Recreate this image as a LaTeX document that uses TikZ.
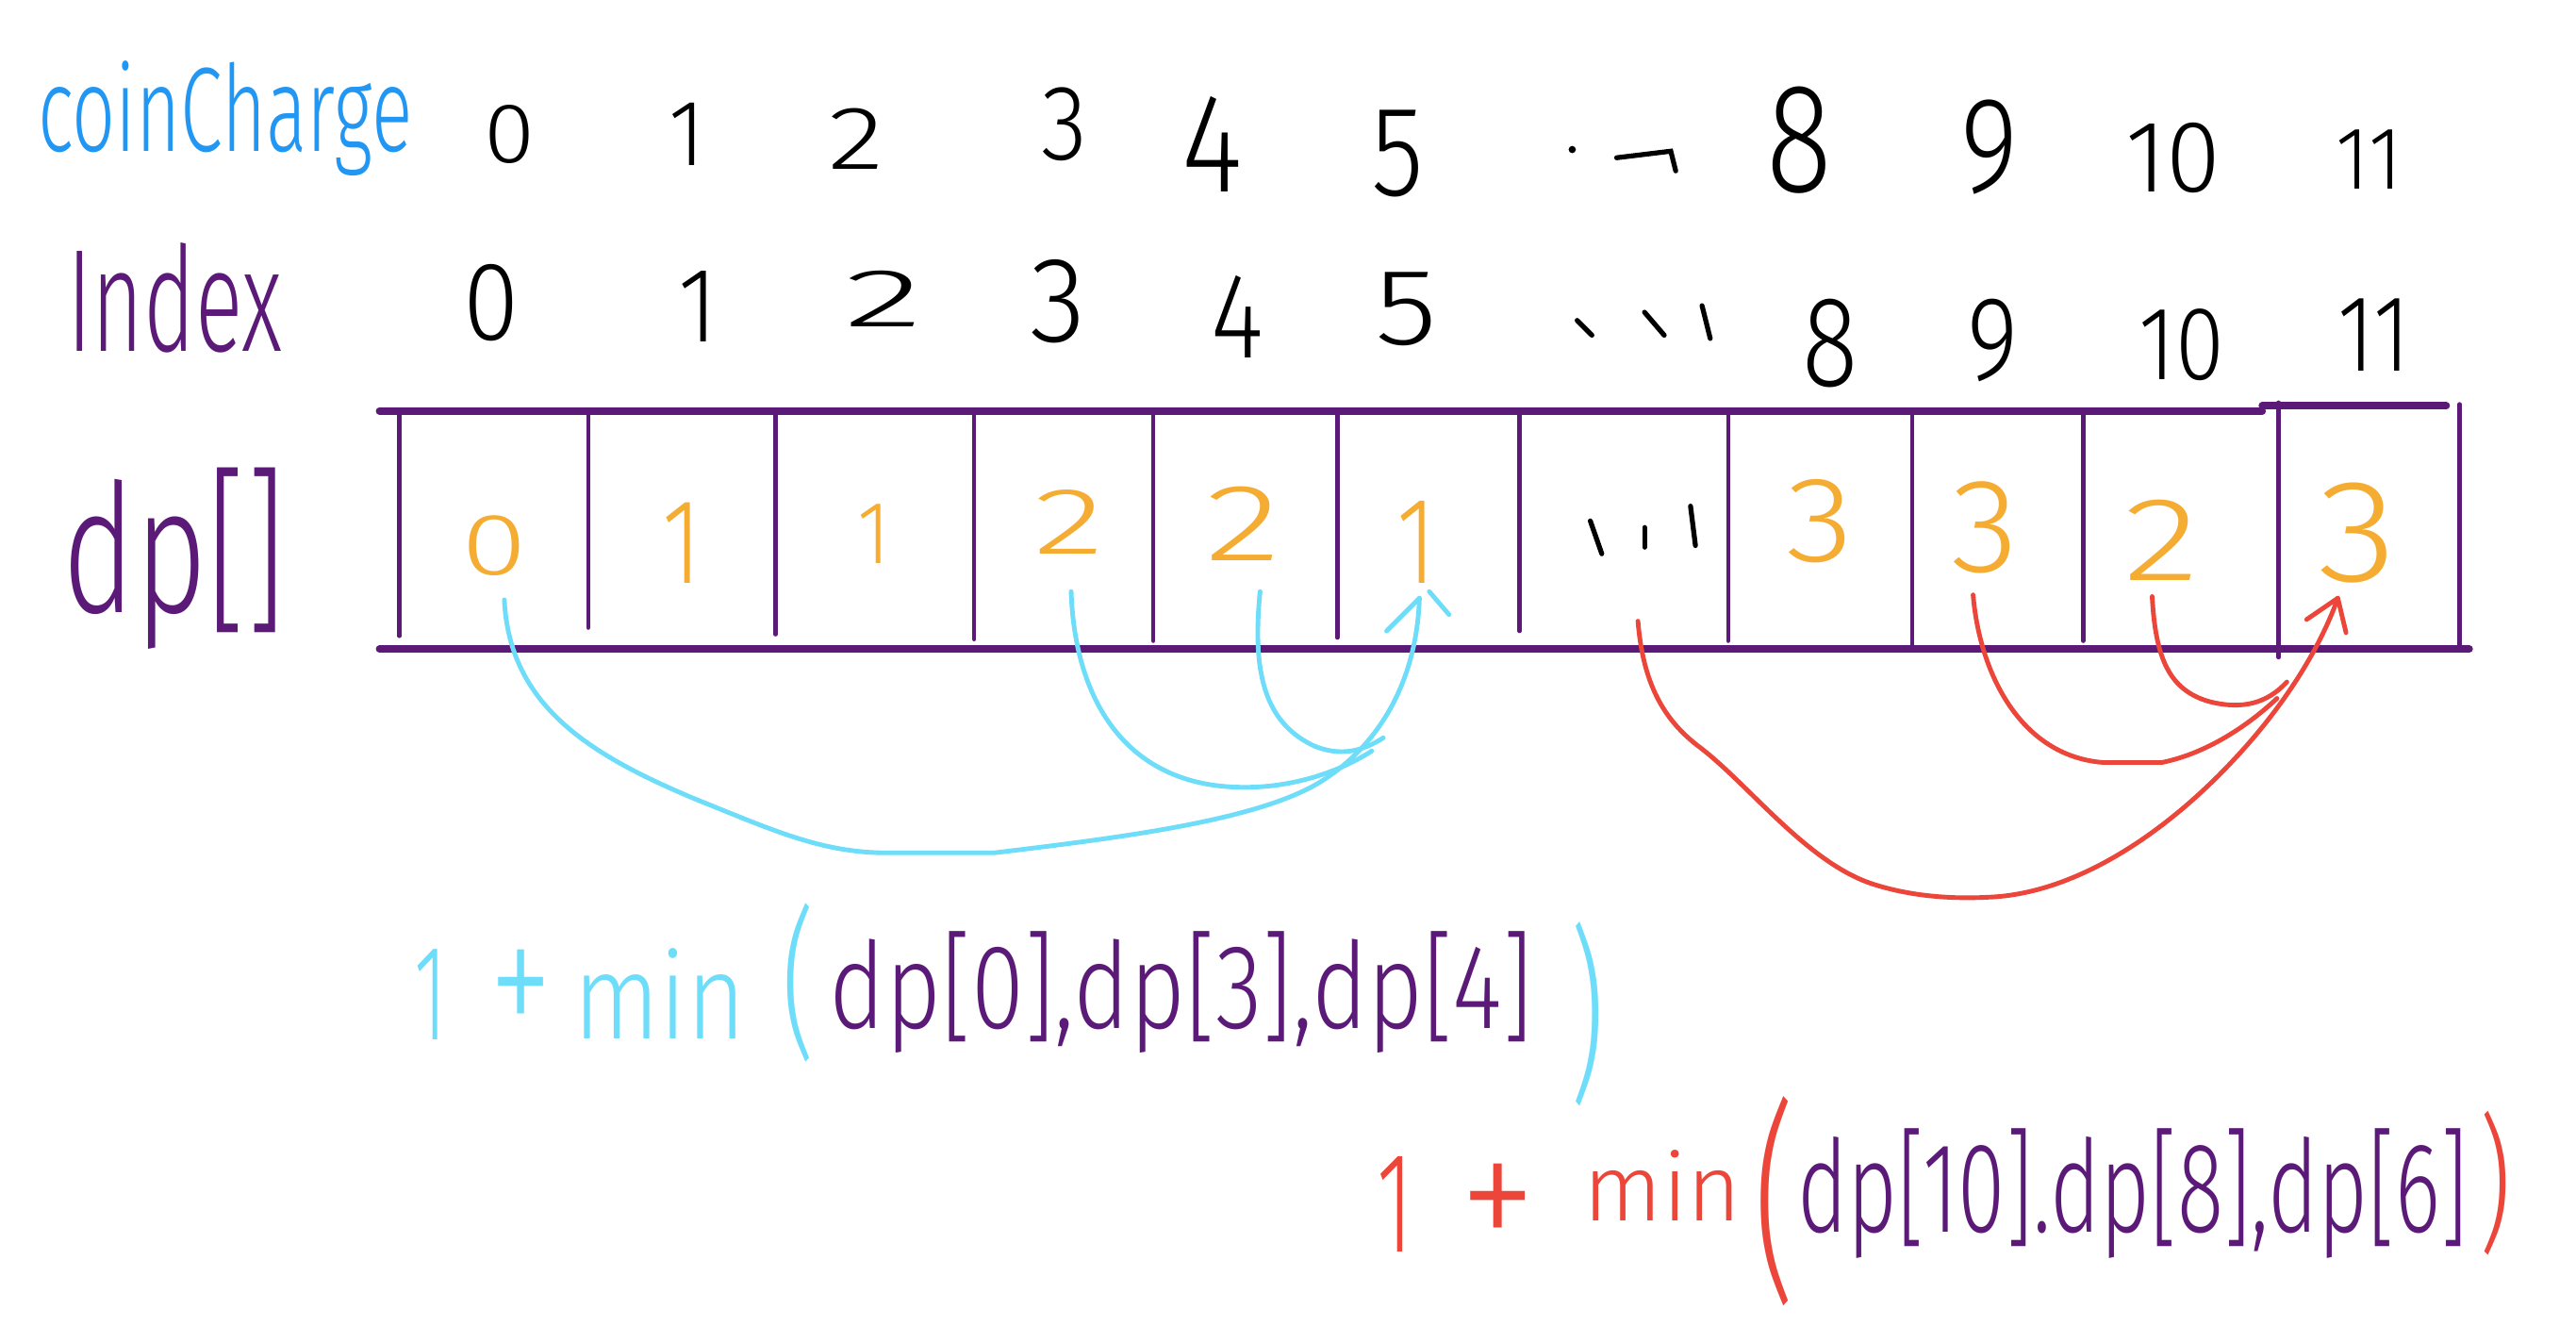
\documentclass[tikz,border=0pt]{standalone}
\usepackage{fontspec}
\usepackage{graphicx}
\newfontfamily\hand{Fira Sans Light}
\definecolor{cblue}{HTML}{2196F3}
\definecolor{cpurple}{HTML}{5B1A78}
\definecolor{corange}{HTML}{F5AC32}
\definecolor{ccyan}{HTML}{6EDDFA}
\definecolor{cred}{HTML}{EC453A}
\newcommand\fit[3]{\resizebox{#1}{#2}{\hand #3}}
\begin{document}
\begin{tikzpicture}[x=1pt,y=-1pt,
  txt/.style={inner sep=0pt, outer sep=0pt, anchor=base},
  txtw/.style={inner sep=0pt, outer sep=0pt, anchor=base west},
  txtc/.style={inner sep=0pt, outer sep=0pt, anchor=center},
  gridh/.style={draw=cpurple, line width=4.5pt, line cap=round},
  gridv/.style={draw=cpurple, line width=2.6pt, line cap=round},
  cyanline/.style={draw=ccyan, line width=2.8pt, line cap=round, line join=round},
  redline/.style={draw=cred, line width=2.8pt, line cap=round, line join=round},
  inkstroke/.style={draw=black, line width=3pt, line cap=round}]
\useasboundingbox[fill=white] (0,0) rectangle (1568,817);

% labels
\node[txtw, text=cblue] (lcoin) at (23,92) {\fit{228pt}{55pt}{coinCharge}};
\node[txtw, text=cpurple] (lindex) at (41,214) {\fit{131pt}{66pt}{Index}};
\node[txtw, text=cpurple] (ldp) at (38,373) {\fit{136pt}{88pt}{dp[]}};

% row 1 (coinCharge amounts)
\foreach \n/\x/\y/\w/\h/\s in {0/310/99/31/35/0, 1/418/101/22/38/1, 2/521/103/34/37/2, 3/648/97/28/44/3,
  4/738/117/37/58/4, 5/851/119/32/52/5, 8/1095/117/40/64/8, 9/1211/117/35/56/9, 10/1323/117/58/42/10, 11/1442/115/40/36/11}
  \node[txt] (ca\n) at (\x,\y) {\fit{\w pt}{\h pt}{\s}};
\fill (957,91) circle (2.2pt);
\coordinate (hk1) at (984,96);
\coordinate (hk2) at (1017,92);
\coordinate (hk3) at (1020,104);
\draw[inkstroke] (hk1) -- (hk2) -- (hk3);

% row 2 (index)
\foreach \n/\x/\y/\w/\h/\s in {0/299/207/34/46/0, 1/425/208/24/43/1, 2/538/199/48/34/2, 3/644/208/34/50/3,
  4/753/218/32/50/4, 5/856/210/38/44/5, 8/1114/235/34/53/8, 9/1213/231/31/49/9, 10/1328/231/52/43/10, 11/1445/226/44/44/11}
  \node[txt] (ix\n) at (\x,\y) {\fit{\w pt}{\h pt}{\s}};
\draw[inkstroke] (960,195) -- (969,204);
\draw[inkstroke] (1001,190) -- (1013,204);
\draw[inkstroke] (1036,186) -- (1041,206);

% grid
\draw[gridh] (231,250) -- (1377,250);
\draw[gridh] (1377,247) -- (1489,247);
\draw[gridh] (231,395) -- (1503,395);
\foreach \x/\t/\b in {243/251/387, 358/251/382, 472/251/386, 593/251/389, 702/251/390, 814/251/388,
  925/251/384, 1052/251/390, 1164/251/394, 1268/251/390, 1387/245/400, 1497/246/394}
  \draw[gridv] (\x,\t) -- (\x,\b);

% dp values
\foreach \n/\x/\y/\w/\h/\s in {0/301/350/40/36/0, 1/415/355/24/49/1, 2/532/343/20/36/1, 3/651/337/43/39/2,
  4/757/341/46/45/2, 5/862/355/24/50/1, 8/1108/342/41/50/3, 9/1208/348/41/55/3, 10/1316/353/46/49/2, 11/1435/354/48/60/3}
  \node[txt, text=corange] (v\n) at (\x,\y) {\fit{\w pt}{\h pt}{\s}};
\draw[inkstroke] (968,317) -- (975,337);
\draw[inkstroke] (1001,321) -- (1001,333);
\draw[inkstroke] (1029,308) -- (1032,332);

% cyan connectors
\coordinate (c0) at (307,365);
\coordinate (c3) at (652,360);
\coordinate (c4) at (767,360);
\coordinate (t5) at (864,364);
\coordinate (cm) at (835,457);
\draw[cyanline] (c0) .. controls (310,430) and (360,460) .. (425,487)
  .. controls (470,505) and (500,519) .. (540,519) -- (605,519)
  .. controls (680,510) and (760,500) .. (800,478)
  .. controls (835,458) and (862,420) .. (t5);
\draw[cyanline] (c3) .. controls (654,420) and (680,470) .. (740,478)
  .. controls (780,483) and (815,470) .. (cm);
\draw[cyanline] (c4) .. controls (762,410) and (770,440) .. (800,454)
  .. controls (815,460) and (828,458) .. (842,449);
\draw[cyanline] (844,384) -- (t5);
\draw[cyanline] (870,360) -- (882,374);

% red connectors
\coordinate (r6) at (997,378);
\coordinate (r9) at (1201,362);
\coordinate (r10) at (1310,363);
\coordinate (t11) at (1423,364);
\coordinate (rm) at (1386,425);
\draw[redline] (r6) .. controls (1000,415) and (1012,438) .. (1035,455)
  .. controls (1065,478) and (1100,525) .. (1140,538)
  .. controls (1165,546) and (1190,547) .. (1210,546)
  .. controls (1265,544) and (1320,505) .. (1360,462)
  .. controls (1390,430) and (1412,395) .. (t11);
\draw[redline] (r9) .. controls (1205,410) and (1230,460) .. (1280,464) -- (1316,464)
  .. controls (1345,458) and (1370,440) .. (rm);
\draw[redline] (r10) .. controls (1312,400) and (1320,420) .. (1345,427)
  .. controls (1365,432) and (1380,428) .. (1392,415);
\draw[redline] (1404,377) -- (t11) -- (1428,385);

% formula 1
\node[txt, text=ccyan] (f1one) at (262,633) {\fit{20pt}{55pt}{1}};
\node[txt, text=ccyan] (f1plus) at (317,634) {\scalebox{0.7}[1]{\hand\fontsize{110}{110}\selectfont +}};
\node[txtw, text=ccyan] (f1min) at (349,632) {\fit{105pt}{55pt}{min}};
\node[txtc, text=ccyan] (f1lp) at (486,598) {\scalebox{1}[1.6]{\hand\fontsize{62}{62}\selectfont (}};
\node[txtw, text=cpurple] (f1dp) at (505,626) {\fit{428pt}{59pt}{dp[0],dp[3],dp[4]}};
\node[txtc, text=ccyan] (f1rp) at (966,617) {\scalebox{1}[1.8]{\hand\fontsize{64}{64}\selectfont )}};

% formula 2
\node[txt, text=cred] (f2one) at (849,762) {\fit{22pt}{58pt}{1}};
\node[txt, text=cred] (f2plus) at (912,764) {\scalebox{0.85}[1]{\hand\fontsize{110}{110}\selectfont +}};
\node[txtw, text=cred] (f2min) at (964,743) {\fit{96pt}{43pt}{min}};
\node[txtc, text=cred] (f2lp) at (1080,731) {\scalebox{1}[1.7]{\hand\fontsize{77}{77}\selectfont (}};
\node[txtw, text=cpurple] (f2dp) at (1094,750) {\fit{408pt}{63pt}{dp[10].dp[8],dp[6]}};
\node[txtc, text=cred] (f2rp) at (1519,720) {\scalebox{1}[1.5]{\hand\fontsize{60}{60}\selectfont )}};
\end{tikzpicture}
\end{document}
